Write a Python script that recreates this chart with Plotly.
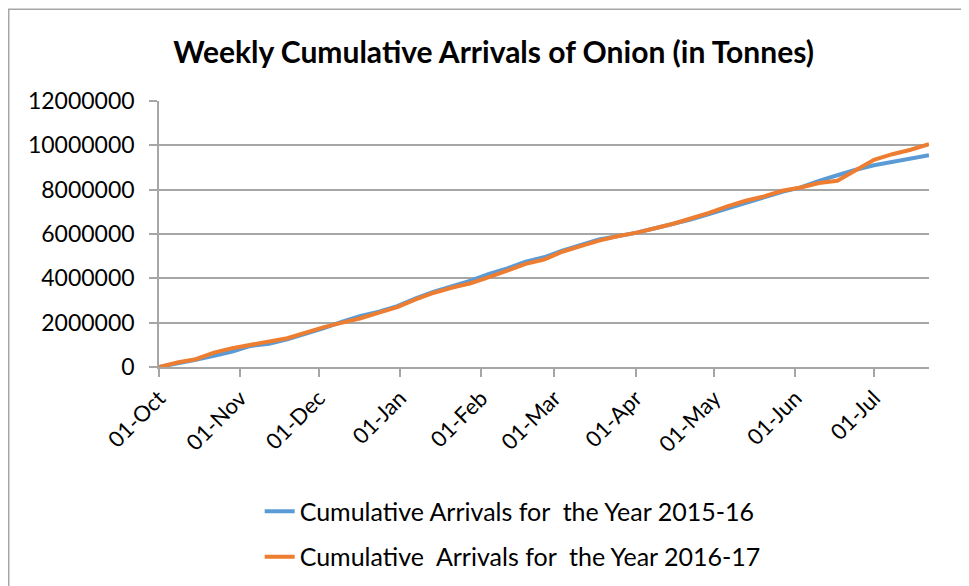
import plotly.graph_objects as go
import pandas as pd

title = "Weekly Cumulative Arrivals of Onion (in Tonnes)"
weeks = pd.date_range("2016-10-01", periods=43, freq="7D")

series_2015_16 = [0, 150000, 330000, 500000, 700000, 950000, 1050000, 1250000, 1500000, 1750000,
                  2050000, 2300000, 2500000, 2750000, 3100000, 3400000, 3650000, 3900000, 4200000, 4450000,
                  4750000, 4950000, 5250000, 5500000, 5750000, 5900000, 6050000, 6250000, 6450000, 6650000,
                  6900000, 7150000, 7400000, 7650000, 7900000, 8100000, 8400000, 8650000, 8900000, 9100000,
                  9250000, 9380000, 9550000]
series_2016_17 = [0, 200000, 350000, 650000, 850000, 1000000, 1150000, 1300000, 1550000, 1800000,
                  2000000, 2200000, 2450000, 2700000, 3050000, 3350000, 3580000, 3780000, 4050000, 4350000,
                  4650000, 4850000, 5200000, 5450000, 5700000, 5900000, 6050000, 6250000, 6450000, 6700000,
                  6950000, 7250000, 7500000, 7700000, 7950000, 8100000, 8300000, 8400000, 8850000, 9350000,
                  9600000, 9800000, 10050000]
names = ["Cumulative Arrivals for\u00a0 the Year 2015-16",
         "Cumulative\u00a0 Arrivals for\u00a0 the Year 2016-17"]
colors = ["#5B9BD5", "#ED7D31"]
y_ticks = [0, 2000000, 4000000, 6000000, 8000000, 10000000, 12000000]

FONT = "Lato"
fig = go.Figure()
for i, (vals, nm) in enumerate(zip([series_2015_16, series_2016_17], names)):
    fig.add_trace(go.Scatter(x=weeks, y=vals, mode="lines", name=nm,
                             legendgroup=str(i),
                             line=dict(color=colors[i], width=4)))

# page body has an 8px margin: work in page pixels and shift by OFF
OFF = 8
W, H = 969 - OFF, 586 - OFF
L = 159.3 - OFF
R = W - (929.5 - OFF)
T = 100.7 - OFF
B = H - (367.3 - OFF)
pw, ph = W - L - R, H - T - B

def px_x(p):
    return (p - OFF - L) / pw

def px_y(p):
    return (H - B - (p - OFF)) / ph

fig.update_layout(
    width=W, height=H,
    margin=dict(l=L, r=R, t=T, b=B, autoexpand=False),
    paper_bgcolor="white", plot_bgcolor="white",
    font=dict(family=FONT, size=22, color="#000000"),
    title=dict(text="<b>" + title + "</b>", x=px_x(494), xanchor="center", xref="paper",
               y=1 - (52 - OFF) / H, yanchor="middle", font=dict(size=30, family=FONT)),
    showlegend=True,
    legend=dict(x=px_x(260), xanchor="left", y=px_y(489), yanchor="top",
                orientation="v", tracegroupgap=10, font=dict(size=25),
                bgcolor="rgba(0,0,0,0)"),
    xaxis=dict(range=[weeks[0], weeks[-1]], tickformat="%d-%b", dtick="M1",
               tick0="2016-10-01", tickangle=-45, showgrid=False,
               showline=True, linecolor="#a6a6a6", linewidth=1.5,
               ticks="outside", ticklen=8, tickcolor="#a6a6a6", tickwidth=1.5,
               zeroline=False, tickfont=dict(size=22)),
    yaxis=dict(range=[0, 12000000], tickvals=y_ticks, ticktext=[str(v) for v in y_ticks],
               showgrid=True, gridcolor="#a6a6a6", gridwidth=1.5,
               showline=True, linecolor="#a6a6a6", linewidth=1.5,
               ticks="outside", ticklen=8, tickcolor="#a6a6a6", tickwidth=1.5,
               ticklabelstandoff=10,
               zeroline=False, tickfont=dict(size=23)),
    shapes=[dict(type="rect", xref="paper", yref="paper",
                 x0=px_x(9), x1=px_x(990), y0=px_y(620), y1=px_y(8.75),
                 line=dict(color="#a6a6a6", width=1.5), fillcolor="rgba(0,0,0,0)",
                 layer="below")],
)

fig.write_html("out.html")
